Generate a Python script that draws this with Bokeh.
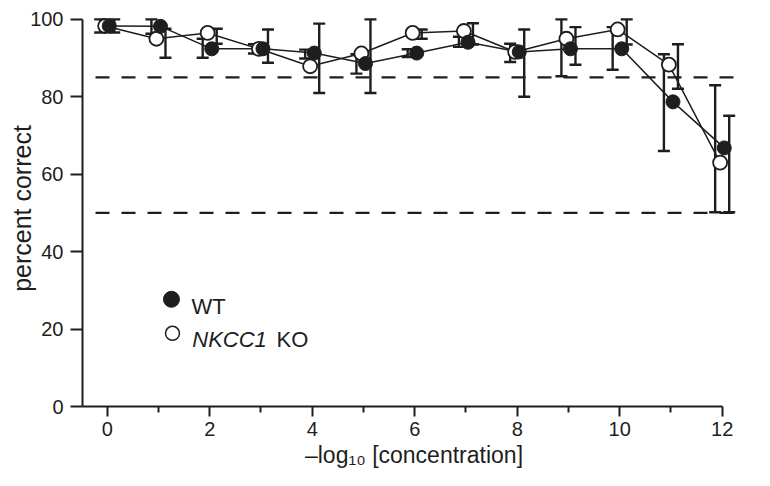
import numpy as np
from bokeh.plotting import figure
from bokeh.models import Range1d, FixedTicker, Label, Whisker, ColumnDataSource, TeeHead
from bokeh.embed import file_html
from bokeh.resources import INLINE

# ---- data ----
conc = [0, 1, 2, 3, 4, 5, 6, 7, 8, 9, 10, 11, 12]
wt_mean = [98.3, 98.2, 92.4, 92.4, 91.3, 88.6, 91.3, 94.1, 91.6, 92.4, 92.4, 78.7, 66.8]
wt_upper = [100.0, 100.0, 95.0, 93.6, 92.2, 91.0, 92.3, 95.5, 93.7, 100.0, 98.0, 91.0, 83.0]
wt_lower = [96.6, 96.3, 90.1, 91.2, 89.9, 86.0, 90.3, 92.9, 89.0, 85.3, 87.0, 66.0, 50.2]
ko_mean = [98.3, 95.0, 96.5, 92.4, 87.9, 91.2, 96.5, 97.0, 91.6, 95.0, 97.4, 88.3, 63.0]
ko_upper = [100.0, 97.6, 97.6, 97.4, 98.9, 100.0, 97.4, 99.0, 97.4, 98.0, 100.0, 93.6, 75.1]
ko_lower = [96.6, 90.1, 93.7, 88.8, 81.0, 81.0, 95.0, 93.5, 80.0, 88.3, 93.5, 82.1, 50.2]
criteria = [85, 50]
x_ticks = [0, 2, 4, 6, 8, 10, 12]
x_minor = [1, 3, 5, 7, 9, 11]
y_ticks = [0, 20, 40, 60, 80, 100]

INK = "#1e1e1e"
FONT = "Liberation Sans"

p = figure(width=754, height=470, output_backend="svg", toolbar_location=None,
           x_range=Range1d(-0.482, 12.455), y_range=Range1d(0, 102.3),
           min_border_left=82, min_border_right=9, min_border_top=10, min_border_bottom=63)
p.outline_line_color = None
p.grid.visible = False
p.background_fill_color = "white"
p.border_fill_color = "white"

for ax in (p.xaxis[0], p.yaxis[0]):
    ax.axis_line_width = 2
    ax.axis_line_color = INK
    ax.major_tick_line_width = 2
    ax.major_tick_line_color = INK
    ax.minor_tick_line_width = 2
    ax.minor_tick_line_color = INK
    ax.major_tick_in = 0
    ax.minor_tick_in = 0
    ax.major_label_text_font = FONT
    ax.major_label_text_font_size = "20px"
    ax.major_label_text_color = INK
    ax.axis_label_text_font = FONT
    ax.axis_label_text_font_style = "normal"
    ax.axis_label_text_color = INK
    ax.axis_label_standoff = 0

p.xaxis.ticker = FixedTicker(ticks=x_ticks, minor_ticks=x_minor)
p.yaxis.ticker = FixedTicker(ticks=y_ticks, minor_ticks=[])
p.xaxis.bounds = (-0.482, 12)
p.yaxis.bounds = (0, 100)
p.xaxis.major_tick_out = 10
p.xaxis.minor_tick_out = 6
p.yaxis.major_tick_out = 12
p.xaxis.major_label_standoff = 5
p.yaxis.major_label_standoff = 7
p.xaxis.axis_label = "\u2013log\u2081\u2080 [concentration]"
p.xaxis.axis_label_text_font_size = "23px"
p.xaxis.axis_label_standoff = 3
p.yaxis.axis_label = "percent correct"
p.yaxis.axis_label_text_font_size = "25px"
p.yaxis.axis_label_standoff = -9

# criterion lines
p.segment(x0=[-0.228] * len(criteria), y0=criteria, x1=[12.24] * len(criteria), y1=criteria,
          line_color=INK, line_width=2.2, line_dash="14 12")

x = np.array(conc, dtype=float)
bar_off = 0.137
pt_off = 0.04

def add_whisker(base, upper, lower):
    src = ColumnDataSource(dict(base=base, upper=upper, lower=lower))
    w = Whisker(source=src, base="base", upper="upper", lower="lower", dimension="height",
                line_color=INK, line_width=2.4,
                upper_head=TeeHead(size=12, line_color=INK, line_width=2.4),
                lower_head=TeeHead(size=12, line_color=INK, line_width=2.4),
                level="underlay")
    p.add_layout(w)

add_whisker(x - bar_off, wt_upper, wt_lower)
add_whisker(x + bar_off, ko_upper, ko_lower)

p.line(x - pt_off, ko_mean, line_color=INK, line_width=1.5)
p.line(x + pt_off, wt_mean, line_color=INK, line_width=1.5)
p.scatter(x - pt_off, ko_mean, size=14, fill_color="white", line_color=INK, line_width=1.8)
p.scatter(x + pt_off, wt_mean, size=14, fill_color=INK, line_color=INK, line_width=1)

# legend (drawn manually)
p.scatter([1.254], [27.7], size=16, fill_color=INK, line_color=INK)
p.scatter([1.274], [18.9], size=14, fill_color="white", line_color=INK, line_width=1.5)
p.add_layout(Label(x=1.645, y=25.8, text="WT", text_font=FONT, text_font_size="22px",
                   text_color=INK, text_baseline="alphabetic"))
p.add_layout(Label(x=1.66, y=17.2, text="NKCC1", text_font=FONT, text_font_size="22px",
                   text_font_style="italic", text_color=INK, text_baseline="alphabetic"))
p.add_layout(Label(x=3.305, y=17.2, text="KO", text_font=FONT, text_font_size="22px",
                   text_color=INK, text_baseline="alphabetic"))

open("out.html", "w").write(file_html(p, INLINE))
